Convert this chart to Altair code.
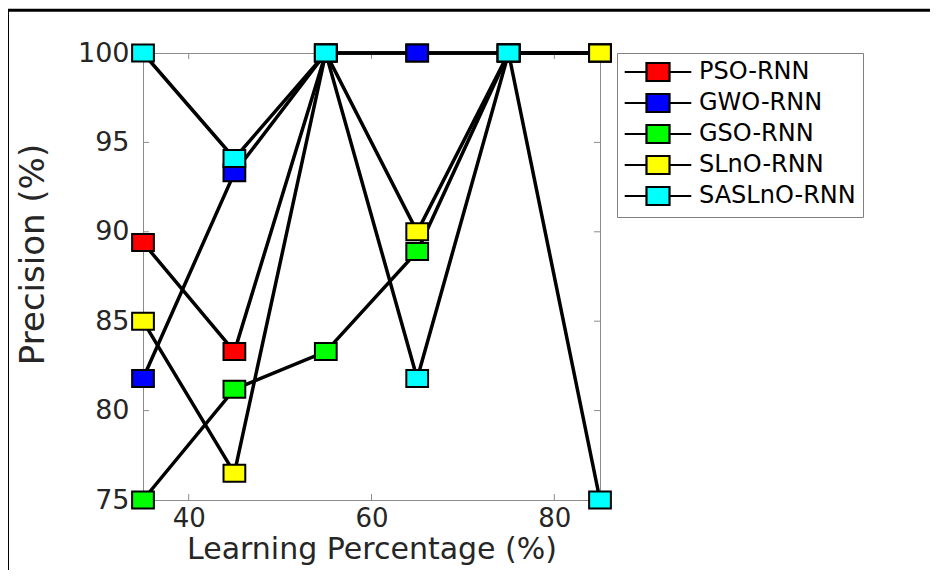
import altair as alt
import pandas as pd

# ---- data ----
x_vals = [35, 45, 55, 65, 75, 85]
series_names = ["PSO-RNN", "GWO-RNN", "GSO-RNN", "SLnO-RNN", "SASLnO-RNN"]
series_colors = ["#ff0000", "#0000ff", "#00ff00", "#ffff00", "#00ffff"]
pso = [89.4, 83.3, 100, 100, 100, 100]
gwo = [81.8, 93.3, 100, 100, 100, 100]
gso = [75.0, 81.2, 83.3, 88.9, 100, 100]
slno = [85.0, 76.5, 100, 90.0, 100, 100]
saslno = [100, 94.1, 100, 81.8, 100, 75.0]
x_ticks = [40, 60, 80]
y_ticks = [75, 80, 85, 90, 95, 100]

series_values = [pso, gwo, gso, slno, saslno]

W, H = 457, 447
FONT = "DejaVu Sans"
TXT = "#262626"
GRAY = "#8c8c8c"

marker_path = "M-1.28,-1L1.28,-1L1.28,1L-1.28,1Z"
legend_path = "M-3.7,0L-1.28,0M-1.28,-1L1.28,-1L1.28,1L-1.28,1ZM1.28,0L3.7,0"

xscale = alt.Scale(domain=[35, 85], nice=False, zero=False)
yscale = alt.Scale(domain=[75, 100], nice=False, zero=False)

xaxis = alt.Axis(
    title="Learning Percentage (%)", values=x_ticks, grid=False, domain=False,
    ticks=False, tickSize=0, labelFont=FONT, labelFontSize=26, labelColor=TXT,
    labelBaseline="alphabetic", labelPadding=26, labelFlush=False,
    titleFont=FONT, titleFontSize=30, titleFontWeight="normal", titleColor=TXT,
    titleBaseline="alphabetic", titleY=58,
)
yaxis = alt.Axis(
    title="Precision (%)", values=y_ticks, grid=False, domain=False,
    ticks=False, tickSize=0, labelFont=FONT, labelFontSize=27, labelColor=TXT,
    labelPadding=14, labelFlush=False,
    titleFont=FONT, titleFontSize=34, titleFontWeight="normal", titleColor=TXT,
    titleBaseline="alphabetic", titleAngle=270, titleAlign="center",
    titleX=-100, titleY=201,
)

X = alt.X("x:Q", scale=xscale, axis=xaxis)
Y = alt.Y("y:Q", scale=yscale, axis=yaxis)

legend = alt.Legend(
    title=None, orient="none", legendX=474, legendY=0,
    symbolType=legend_path, symbolSize=324, symbolStrokeColor="black",
    symbolStrokeWidth=2.2, symbolOpacity=1, symbolOffset=22,
    labelFont=FONT, labelFontSize=24, labelColor="black", labelOffset=29,
    strokeColor="#808080", fillColor="white", padding=7, rowPadding=3,
)
FILL = alt.Fill("series:N", scale=alt.Scale(domain=series_names, range=series_colors),
                legend=legend)

layers = []

# outer figure border (decoration)
one = pd.DataFrame({"a": [0]})
layers.append(alt.Chart(one).mark_rule(color="black", strokeWidth=3).encode(
    x=alt.value(-135.5), y=alt.value(-43), y2=alt.value(520)))
layers.append(alt.Chart(one).mark_rule(color="black", strokeWidth=3).encode(
    x=alt.value(-137), x2=alt.value(800), y=alt.value(-42.7)))

# inward ticks
dfx = pd.DataFrame({"x": x_ticks})
dfy = pd.DataFrame({"y": y_ticks})
layers.append(alt.Chart(dfx).mark_rule(color=GRAY, strokeWidth=1).encode(
    x=X, y=alt.value(H), y2=alt.value(H - 6)))
layers.append(alt.Chart(dfx).mark_rule(color=GRAY, strokeWidth=1).encode(
    x=X, y=alt.value(0), y2=alt.value(6)))
layers.append(alt.Chart(dfy).mark_rule(color=GRAY, strokeWidth=1).encode(
    y=Y, x=alt.value(0), x2=alt.value(6)))
layers.append(alt.Chart(dfy).mark_rule(color=GRAY, strokeWidth=1).encode(
    y=Y, x=alt.value(W), x2=alt.value(W - 6)))

for name, vals in zip(series_names, series_values):
    df = pd.DataFrame({"x": x_vals, "y": vals, "series": name})
    layers.append(alt.Chart(df).mark_line(color="black", strokeWidth=3.5, clip=False).encode(
        x=X, y=Y))
    layers.append(alt.Chart(df).mark_point(
        shape=marker_path, size=289, filled=True, stroke="black", strokeWidth=2,
        opacity=1, clip=False).encode(x=X, y=Y, fill=FILL))

chart = alt.layer(*layers).properties(
    width=W, height=H,
    autosize=alt.AutoSizeParams(type="none"),
    padding={"left": 135, "top": 45, "right": 330, "bottom": 70},
).configure_view(stroke=GRAY, strokeWidth=1)

chart.save("out.html", embed_options={"renderer": "svg", "actions": False})
